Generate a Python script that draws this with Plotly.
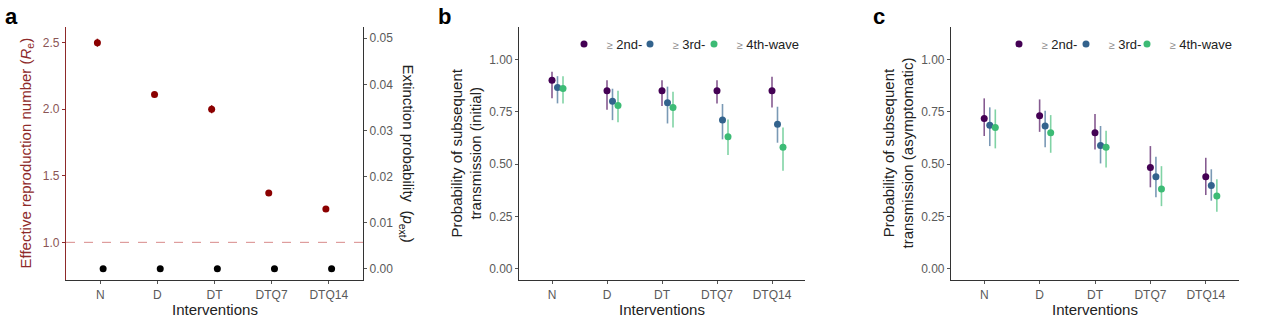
import plotly.graph_objects as go

# ---------------- data ----------------
interventions = ["N", "D", "DT", "DTQ7", "DTQ14"]

# panel a: effective reproduction number and extinction probability
re_mean = [2.50, 2.11, 2.00, 1.37, 1.25]
re_low = [2.47, 2.09, 1.97, 1.35, 1.23]
re_high = [2.53, 2.13, 2.03, 1.39, 1.27]
pext = [0.0, 0.0, 0.0, 0.0, 0.0]

waves = ["2nd-", "3rd-", "4th-wave"]

# panel b: probability of subsequent transmission (initial)
init_mean = {
    "2nd-": [0.90, 0.85, 0.85, 0.85, 0.85],
    "3rd-": [0.866, 0.80, 0.793, 0.71, 0.69],
    "4th-wave": [0.861, 0.78, 0.77, 0.63, 0.58],
}
init_low = {
    "2nd-": [0.814, 0.76, 0.777, 0.79, 0.77],
    "3rd-": [0.79, 0.71, 0.694, 0.618, 0.602],
    "4th-wave": [0.79, 0.70, 0.675, 0.543, 0.468],
}
init_high = {
    "2nd-": [0.941, 0.90, 0.90, 0.90, 0.917],
    "3rd-": [0.92, 0.86, 0.87, 0.787, 0.774],
    "4th-wave": [0.92, 0.85, 0.846, 0.713, 0.675],
}

# panel c: probability of subsequent transmission (asymptomatic)
asym_mean = {
    "2nd-": [0.718, 0.731, 0.650, 0.484, 0.439],
    "3rd-": [0.685, 0.682, 0.589, 0.439, 0.398],
    "4th-wave": [0.675, 0.650, 0.580, 0.381, 0.347],
}
asym_low = {
    "2nd-": [0.634, 0.654, 0.570, 0.389, 0.352],
    "3rd-": [0.586, 0.580, 0.503, 0.341, 0.325],
    "4th-wave": [0.575, 0.554, 0.484, 0.299, 0.272],
}
asym_high = {
    "2nd-": [0.814, 0.809, 0.739, 0.586, 0.530],
    "3rd-": [0.771, 0.755, 0.682, 0.535, 0.475],
    "4th-wave": [0.761, 0.734, 0.659, 0.490, 0.427],
}

# ---------------- styles ----------------
FONT = "Liberation Sans, Arial, sans-serif"
W, H = 1280, 325
wave_colors = {"2nd-": "#440154", "3rd-": "#33638D", "4th-wave": "#3CBB75"}
wave_err = {"2nd-": "rgba(68,1,84,0.65)", "3rd-": "rgba(51,99,141,0.65)",
            "4th-wave": "rgba(60,187,117,0.65)"}
wave_offset = {"2nd-": 0.0, "3rd-": 0.1, "4th-wave": 0.2}
RED = "#8B0000"
RED_AXIS = "#8E2A2A"
MSIZE = 7

# legend key positions (left edge of each single-entry legend, px)
legend_x_b = [564, 630, 694]
legend_x_c = [999, 1066, 1127]


def px_x(a, b):
    return [a / W, b / W]


def py(top, bottom):
    return [1 - bottom / H, 1 - top / H]


ydom = py(27, 280)
dom_a = px_x(66, 363)
dom_b = px_x(519, 805)
dom_c = px_x(951, 1239)

idx = list(range(len(interventions)))

fig = go.Figure()

# panel a
fig.add_trace(go.Scatter(
    x=[i - 0.05 for i in idx], y=re_mean, mode="markers",
    marker=dict(color=RED, size=MSIZE),
    error_y=dict(type="data", symmetric=False,
                 array=[h - m for h, m in zip(re_high, re_mean)],
                 arrayminus=[m - l for m, l in zip(re_mean, re_low)],
                 color=RED, thickness=1.5, width=0),
    xaxis="x", yaxis="y", showlegend=False, hoverinfo="skip"))
fig.add_trace(go.Scatter(
    x=[i + 0.05 for i in idx], y=pext, mode="markers",
    marker=dict(color="black", size=MSIZE),
    xaxis="x", yaxis="y2", showlegend=False, hoverinfo="skip"))


def legend_name(w):
    return "\u2009<span style='color:#8a8a8a;font-size:11px'>≥</span> " + w


def add_panel(mean, low, high, xa, ya, legends):
    for w, lg in zip(waves, legends):
        fig.add_trace(go.Scatter(
            x=[i + wave_offset[w] for i in idx], y=mean[w], mode="markers",
            name=legend_name(w),
            marker=dict(color=wave_colors[w], size=MSIZE),
            error_y=dict(type="data", symmetric=False,
                         array=[h - m for h, m in zip(high[w], mean[w])],
                         arrayminus=[m - l for m, l in zip(mean[w], low[w])],
                         color=wave_err[w], thickness=1.6, width=0),
            xaxis=xa, yaxis=ya, legend=lg, showlegend=True, hoverinfo="skip"))


add_panel(init_mean, init_low, init_high, "x2", "y3",
          ["legend", "legend2", "legend3"])
add_panel(asym_mean, asym_low, asym_high, "x3", "y5",
          ["legend4", "legend5", "legend6"])

tickfont = dict(family=FONT, size=12, color="#5a5a5a")
common_x = dict(range=[-0.6, 4.6], tickvals=idx, ticktext=interventions,
                showline=True, linecolor="#333333", linewidth=1.2,
                ticks="outside", ticklen=3, tickcolor="#555555",
                showgrid=False, zeroline=False, tickfont=tickfont)
common_y = dict(showline=True, linecolor="#333333", linewidth=1.2,
                ticks="outside", ticklen=3, tickcolor="#555555",
                showgrid=False, zeroline=False, tickfont=tickfont)
prob_ticks = [0, 0.25, 0.5, 0.75, 1.0]
prob_range = [-0.054, 1.155]

legend_common = dict(orientation="h", xanchor="left", yanchor="middle",
                     y=1 - 44 / H, bgcolor="rgba(0,0,0,0)",
                     font=dict(family=FONT, size=13, color="#222222"))
legend_layout = {}
for k, xpx in enumerate(legend_x_b + legend_x_c):
    key = "legend" if k == 0 else "legend%d" % (k + 1)
    legend_layout[key] = dict(x=xpx / W, **legend_common)

fig.update_layout(
    width=W, height=H, margin=dict(l=0, r=0, t=0, b=0),
    paper_bgcolor="white", plot_bgcolor="white",
    font=dict(family=FONT),
    xaxis=dict(domain=dom_a, anchor="y", **common_x),
    yaxis=dict(domain=ydom, anchor="x", range=[0.717, 2.618],
               tickvals=[1.0, 1.5, 2.0, 2.5], tickformat=".1f",
               **{**common_y, "linecolor": RED_AXIS, "tickcolor": RED_AXIS,
                  "tickfont": dict(family=FONT, size=12, color="#8a5555")}),
    yaxis2=dict(anchor="x", overlaying="y", side="right",
                range=[-0.00245, 0.05245],
                tickvals=[0, 0.01, 0.02, 0.03, 0.04, 0.05], tickformat=".2f",
                **common_y),
    xaxis2=dict(domain=dom_b, anchor="y3", **common_x),
    yaxis3=dict(domain=ydom, anchor="x2", range=prob_range,
                tickvals=prob_ticks, tickformat=".2f", **common_y),
    yaxis4=dict(anchor="x2", overlaying="y3", side="right", range=prob_range,
                tickvals=prob_ticks, tickformat=".2f", **common_y),
    xaxis3=dict(domain=dom_c, anchor="y5", **common_x),
    yaxis5=dict(domain=ydom, anchor="x3", range=prob_range,
                tickvals=prob_ticks, tickformat=".2f", **common_y),
    yaxis6=dict(anchor="x3", overlaying="y5", side="right", range=prob_range,
                tickvals=prob_ticks, tickformat=".2f", **common_y),
    **legend_layout,
)

# dashed reference line at Re = 1
fig.add_shape(type="line", xref="x domain", yref="y", x0=0, x1=1, y0=1, y1=1,
              line=dict(color="#D88A8A", width=1, dash="dash"))

title_font = dict(family=FONT, size=15, color="#222222")
ymid = (ydom[0] + ydom[1]) / 2
annots = [
    # panel letters
    dict(text="<b>a</b>", x=3 / W, y=1 - 2 / H, xanchor="left", yanchor="top",
         font=dict(family=FONT, size=22, color="black")),
    dict(text="<b>b</b>", x=436 / W, y=1 - 2 / H, xanchor="left", yanchor="top",
         font=dict(family=FONT, size=22, color="black")),
    dict(text="<b>c</b>", x=871 / W, y=1 - 2 / H, xanchor="left", yanchor="top",
         font=dict(family=FONT, size=22, color="black")),
    # x titles
    dict(text="Interventions", x=(dom_a[0] + dom_a[1]) / 2, y=1 - 309 / H,
         xanchor="center", yanchor="middle", font=title_font),
    dict(text="Interventions", x=(dom_b[0] + dom_b[1]) / 2, y=1 - 309 / H,
         xanchor="center", yanchor="middle", font=title_font),
    dict(text="Interventions", x=(dom_c[0] + dom_c[1]) / 2, y=1 - 309 / H,
         xanchor="center", yanchor="middle", font=title_font),
    # y titles
    dict(text="Effective reproduction number (<i>R</i><sub>e</sub>)",
         x=26 / W, y=ymid, xanchor="center", yanchor="middle", textangle=-90,
         font=dict(family=FONT, size=15, color="#8E2A2A")),
    dict(text="Extinction probability  (<i>p</i><sub>ext</sub>)",
         x=407 / W, y=ymid, xanchor="center", yanchor="middle", textangle=90,
         font=title_font),
    dict(text="Probability of subsequent<br>transmission (initial)",
         x=466 / W, y=ymid, xanchor="center", yanchor="middle", textangle=-90,
         font=title_font),
    dict(text="Probability of subsequent<br>transmission (asymptomatic)",
         x=898 / W, y=ymid, xanchor="center", yanchor="middle", textangle=-90,
         font=title_font),
]
for a in annots:
    fig.add_annotation(xref="paper", yref="paper", showarrow=False, **a)

fig.write_html("out.html", config={"displayModeBar": False},
               post_script="document.body.style.margin='0';")
